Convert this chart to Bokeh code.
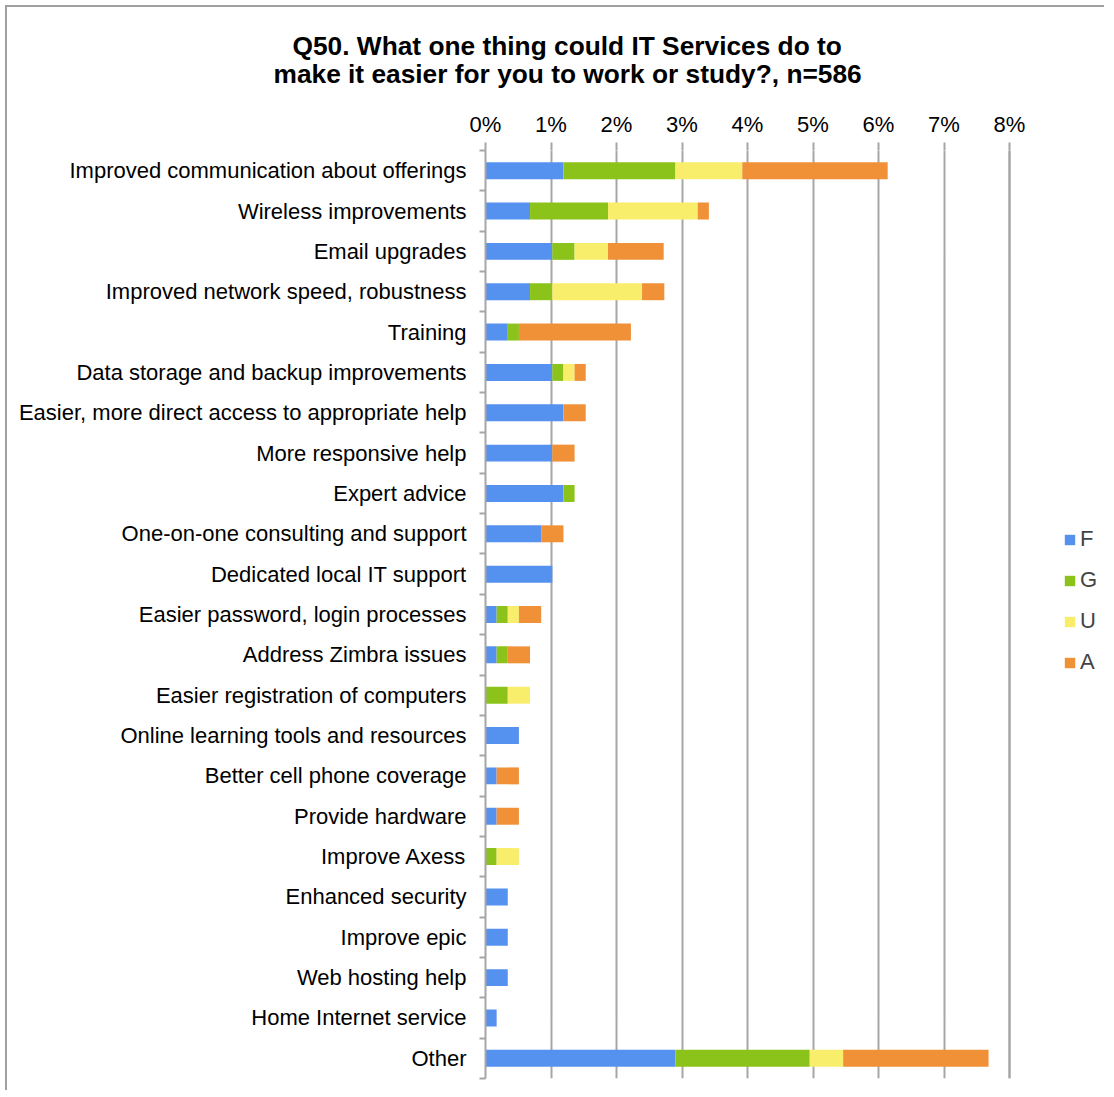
from bokeh.plotting import figure
from bokeh.models import (ColumnDataSource, Range1d, FixedTicker, PrintfTickFormatter,
                          LinearAxis, Legend, LegendItem, Title, Span)
from bokeh.embed import file_html
from bokeh.resources import INLINE

# ---- data (percent of respondents, n=586) ----
categories = [
    "Improved communication about offerings",
    "Wireless improvements",
    "Email upgrades",
    "Improved network speed, robustness",
    "Training",
    "Data storage and backup improvements",
    "Easier, more direct access to appropriate help",
    "More responsive help",
    "Expert advice",
    "One-on-one consulting and support",
    "Dedicated local IT support",
    "Easier password, login processes",
    "Address Zimbra issues",
    "Easier registration of computers",
    "Online learning tools and resources",
    "Better cell phone coverage",
    "Provide hardware",
    "Improve Axess",
    "Enhanced security",
    "Improve epic",
    "Web hosting help",
    "Home Internet service",
    "Other",
]
F = [1.19, 0.68, 1.02, 0.68, 0.34, 1.02, 1.19, 1.02, 1.19, 0.85, 1.02, 0.17, 0.17, 0.00, 0.51, 0.17, 0.17, 0.00, 0.34, 0.34, 0.34, 0.17, 2.90]
G = [1.71, 1.19, 0.34, 0.34, 0.17, 0.17, 0.00, 0.00, 0.17, 0.00, 0.00, 0.17, 0.17, 0.34, 0.00, 0.00, 0.00, 0.17, 0.00, 0.00, 0.00, 0.00, 2.05]
U = [1.02, 1.37, 0.51, 1.37, 0.00, 0.17, 0.00, 0.00, 0.00, 0.00, 0.00, 0.17, 0.00, 0.34, 0.00, 0.00, 0.00, 0.34, 0.00, 0.00, 0.00, 0.00, 0.51]
A = [2.22, 0.17, 0.85, 0.34, 1.71, 0.17, 0.34, 0.34, 0.00, 0.34, 0.00, 0.34, 0.34, 0.00, 0.00, 0.34, 0.34, 0.00, 0.00, 0.00, 0.00, 0.00, 2.22]
series = ["F", "G", "U", "A"]
colors = ["#5591EF", "#8CC31A", "#F9EE6B", "#F09037"]
x_ticks = [0, 1, 2, 3, 4, 5, 6, 7, 8]
title_lines = ["Q50. What one thing could IT Services do to",
               "make it easier for you to work or study?, n=586"]

n = len(categories)
ypos = list(range(n - 1, -1, -1))
source = ColumnDataSource(dict(y=ypos, cat=categories, F=F, G=G, U=U, A=A))

FONT = "Liberation Sans"
GRID = "#a6a6a6"
FRAME_W = 619
X_MAX = 9.45  # frame extends right of 8% to hold the legend

p = figure(frame_width=FRAME_W, frame_height=928, output_backend="svg", toolbar_location=None,
           x_range=Range1d(0, X_MAX), y_range=Range1d(-0.5, n - 0.5),
           x_axis_location=None, y_axis_location=None,
           min_border_left=478, min_border_right=0, min_border_top=143, min_border_bottom=12)
p.outline_line_color = None
p.margin = (5, 0, 0, 5)
p.styles = {"border-left": "2px solid #a0a0a0", "border-top": "2px solid #a0a0a0"}

renderers = p.hbar_stack(series, y="y", height=0.42, color=colors, line_color=None, source=source)

# top value axis
xaxis = LinearAxis(ticker=FixedTicker(ticks=x_ticks),
                   formatter=PrintfTickFormatter(format="%d%%"))
xaxis.axis_line_color = None
xaxis.major_tick_line_color = GRID
xaxis.major_tick_line_width = 2
xaxis.major_tick_out = 8
xaxis.major_tick_in = 0
xaxis.minor_tick_line_color = None
xaxis.major_label_standoff = 6
xaxis.major_label_text_font = FONT
xaxis.major_label_text_font_size = "22px"
xaxis.major_label_text_color = "#000000"
p.add_layout(xaxis, "above")

# spacer between axis labels and title, then the two title lines
p.add_layout(Title(text=" ", text_font_size="1px", standoff=16.5), "above")
p.add_layout(Title(text=title_lines[1], align="left", offset=-212, text_font=FONT,
                   text_font_size="26.3px", text_font_style="bold", text_color="#000000",
                   standoff=0), "above")
p.add_layout(Title(text=title_lines[0], align="left", offset=-193, text_font=FONT,
                   text_font_size="26.3px", text_font_style="bold", text_color="#000000",
                   standoff=-8.5), "above")

# left category axis (ticks between categories)
yaxis = LinearAxis(ticker=FixedTicker(ticks=ypos, minor_ticks=[i - 0.5 for i in range(n + 1)]))
yaxis.major_label_overrides = {y: c for y, c in zip(ypos, categories)}
yaxis.axis_line_color = GRID
yaxis.axis_line_width = 2
yaxis.major_tick_line_color = None
yaxis.major_tick_out = 0
yaxis.major_tick_in = 0
yaxis.minor_tick_line_color = GRID
yaxis.minor_tick_line_width = 2
yaxis.minor_tick_out = 6
yaxis.minor_tick_in = 0
yaxis.major_label_standoff = 13
yaxis.major_label_text_font = FONT
yaxis.major_label_text_font_size = "22px"
yaxis.major_label_text_color = "#000000"
p.add_layout(yaxis, "left")

p.xgrid.ticker = FixedTicker(ticks=x_ticks)
p.xgrid.grid_line_color = GRID
p.xgrid.grid_line_width = 2
p.ygrid.grid_line_color = None
p.add_layout(Span(location=x_ticks[-1], dimension="height", line_color=GRID, line_width=2))

items = [LegendItem(label=s, renderers=[r]) for s, r in zip(series, renderers)]
legend = Legend(items=items, location=(578, 403), orientation="vertical",
                glyph_width=13, glyph_height=13, label_height=20, spacing=15,
                label_standoff=4, padding=0, margin=0,
                label_text_font=FONT, label_text_font_size="22px",
                border_line_color=None, background_fill_alpha=0)
p.add_layout(legend, "center")

open("out.html", "w").write(file_html(p, INLINE))
